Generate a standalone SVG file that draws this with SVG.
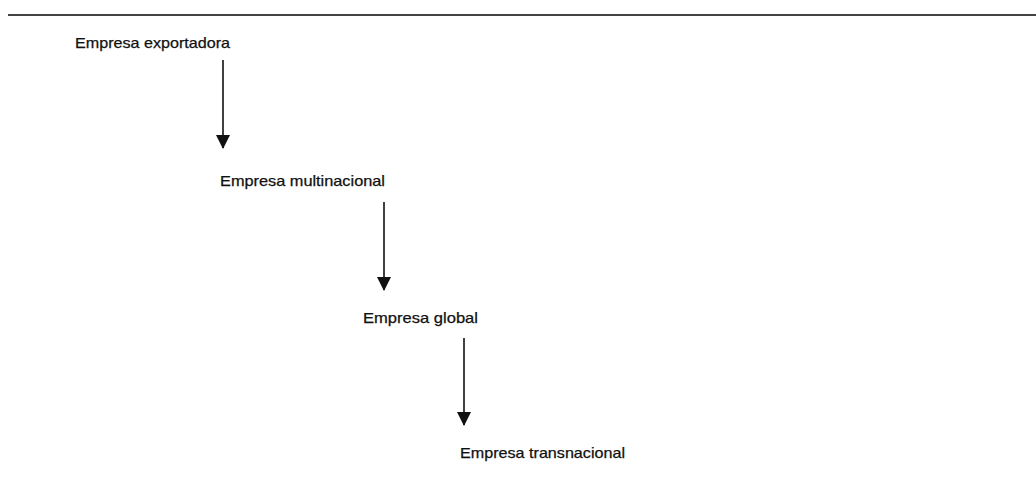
<svg xmlns="http://www.w3.org/2000/svg" width="1036" height="478" viewBox="0 0 1036 478">
<defs>
<style>
.lbl{font-family:"Liberation Sans",Arial,sans-serif;font-size:14.5px;fill:#111;stroke:#111;stroke-width:0.25;}
.conn{stroke:#111;stroke-width:1.6;fill:none;}
</style>
<marker id="ah" viewBox="0 0 14 14" refX="13" refY="7" markerWidth="14" markerHeight="14" markerUnits="userSpaceOnUse" orient="auto">
<path d="M0,0 L14,7 L0,14 Z" fill="#111"/>
</marker>
</defs>
<rect width="1036" height="478" fill="#fff"/>
<line x1="8" y1="15" x2="1036" y2="15" stroke="#444" stroke-width="2.2"/>
<g id="n1"><text class="lbl" x="75" y="48" textLength="155" lengthAdjust="spacingAndGlyphs">Empresa exportadora</text></g>
<g id="n2"><text class="lbl" x="220" y="186" textLength="165" lengthAdjust="spacingAndGlyphs">Empresa multinacional</text></g>
<g id="n3"><text class="lbl" x="363" y="323" textLength="115" lengthAdjust="spacingAndGlyphs">Empresa global</text></g>
<g id="n4"><text class="lbl" x="460" y="458" textLength="165" lengthAdjust="spacingAndGlyphs">Empresa transnacional</text></g>
<g id="connectors">
<line class="conn" x1="223" y1="60" x2="223" y2="148" marker-end="url(#ah)"/>
<line class="conn" x1="384" y1="202" x2="384" y2="290" marker-end="url(#ah)"/>
<line class="conn" x1="464" y1="338" x2="464" y2="425" marker-end="url(#ah)"/>
</g>
</svg>
